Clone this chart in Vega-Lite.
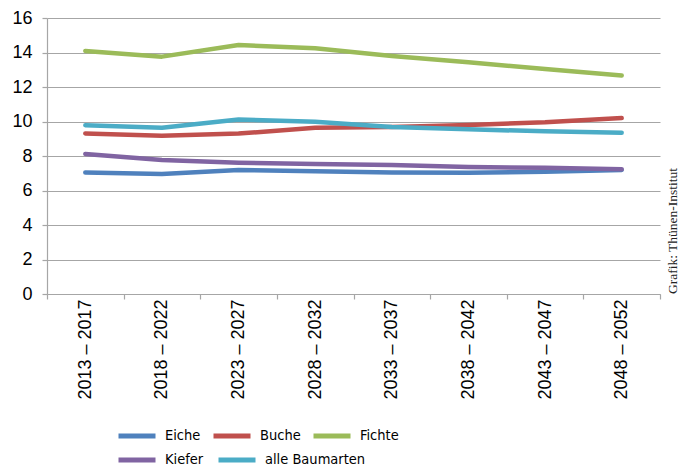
{
  "$schema": "https://vega.github.io/schema/vega-lite/v6.json",
  "width": 613,
  "height": 276,
  "autosize": {"type": "none"},
  "padding": {"left": 47, "top": 18, "right": 21, "bottom": 174},
  "background": "white",
  "title": {
    "text": "Grafik: Thünen-Institut",
    "orient": "right",
    "anchor": "end",
    "frame": "group",
    "angle": -90,
    "align": "left",
    "baseline": "top",
    "font": "Liberation Serif",
    "fontSize": 13.5,
    "fontWeight": "normal",
    "color": "#222222",
    "offset": -8
  },
  "data": {
    "values": [
      {"period": "2013 – 2017", "art": "Eiche", "v": 7.05},
      {"period": "2018 – 2022", "art": "Eiche", "v": 6.96},
      {"period": "2023 – 2027", "art": "Eiche", "v": 7.19},
      {"period": "2028 – 2032", "art": "Eiche", "v": 7.11},
      {"period": "2033 – 2037", "art": "Eiche", "v": 7.05},
      {"period": "2038 – 2042", "art": "Eiche", "v": 7.03},
      {"period": "2043 – 2047", "art": "Eiche", "v": 7.08},
      {"period": "2048 – 2052", "art": "Eiche", "v": 7.19},
      {"period": "2013 – 2017", "art": "Buche", "v": 9.31},
      {"period": "2018 – 2022", "art": "Buche", "v": 9.18},
      {"period": "2023 – 2027", "art": "Buche", "v": 9.3},
      {"period": "2028 – 2032", "art": "Buche", "v": 9.64},
      {"period": "2033 – 2037", "art": "Buche", "v": 9.68},
      {"period": "2038 – 2042", "art": "Buche", "v": 9.8},
      {"period": "2043 – 2047", "art": "Buche", "v": 9.95},
      {"period": "2048 – 2052", "art": "Buche", "v": 10.2},
      {"period": "2013 – 2017", "art": "Fichte", "v": 14.09},
      {"period": "2018 – 2022", "art": "Fichte", "v": 13.76},
      {"period": "2023 – 2027", "art": "Fichte", "v": 14.43},
      {"period": "2028 – 2032", "art": "Fichte", "v": 14.24},
      {"period": "2033 – 2037", "art": "Fichte", "v": 13.8},
      {"period": "2038 – 2042", "art": "Fichte", "v": 13.43},
      {"period": "2043 – 2047", "art": "Fichte", "v": 13.04},
      {"period": "2048 – 2052", "art": "Fichte", "v": 12.66},
      {"period": "2013 – 2017", "art": "Kiefer", "v": 8.12},
      {"period": "2018 – 2022", "art": "Kiefer", "v": 7.77},
      {"period": "2023 – 2027", "art": "Kiefer", "v": 7.61},
      {"period": "2028 – 2032", "art": "Kiefer", "v": 7.54},
      {"period": "2033 – 2037", "art": "Kiefer", "v": 7.48},
      {"period": "2038 – 2042", "art": "Kiefer", "v": 7.36},
      {"period": "2043 – 2047", "art": "Kiefer", "v": 7.32},
      {"period": "2048 – 2052", "art": "Kiefer", "v": 7.23},
      {"period": "2013 – 2017", "art": "alle Baumarten", "v": 9.78},
      {"period": "2018 – 2022", "art": "alle Baumarten", "v": 9.64},
      {"period": "2023 – 2027", "art": "alle Baumarten", "v": 10.12},
      {"period": "2028 – 2032", "art": "alle Baumarten", "v": 9.99},
      {"period": "2033 – 2037", "art": "alle Baumarten", "v": 9.68},
      {"period": "2038 – 2042", "art": "alle Baumarten", "v": 9.55},
      {"period": "2043 – 2047", "art": "alle Baumarten", "v": 9.43},
      {"period": "2048 – 2052", "art": "alle Baumarten", "v": 9.35}
    ]
  },
  "encoding": {
    "x": {
      "field": "period",
      "type": "ordinal",
      "sort": null,
      "scale": {"type": "band", "paddingInner": 0, "paddingOuter": 0},
      "axis": {
        "title": null,
        "labelAngle": -90,
        "labelAlign": "right",
        "labelBaseline": "middle",
        "labelFont": "Liberation Sans",
        "labelFontSize": 18,
        "labelColor": "#000000",
        "labelPadding": 0,
        "tickBand": "extent",
        "tickSize": 5,
        "tickColor": "#a6a6a6",
        "domainColor": "#a6a6a6",
        "grid": false
      }
    },
    "y": {
      "field": "v",
      "type": "quantitative",
      "scale": {"domain": [0, 16], "nice": false, "zero": true},
      "axis": {
        "title": null,
        "values": [0, 2, 4, 6, 8, 10, 12, 14, 16],
        "labelFont": "Liberation Sans",
        "labelFontSize": 18,
        "labelColor": "#000000",
        "labelPadding": 10,
        "tickSize": 5,
        "tickColor": "#a6a6a6",
        "domainColor": "#a6a6a6",
        "gridColor": "#a6a6a6",
        "gridWidth": 1.2
      }
    }
  },
  "layer": [
    {
      "transform": [{"filter": {"field": "art", "oneOf": ["Eiche", "Buche", "Fichte"]}}],
      "mark": {"type": "line", "strokeWidth": 4.5, "strokeJoin": "round", "strokeCap": "round"},
      "encoding": {
        "color": {
          "field": "art",
          "type": "nominal",
          "scale": {
            "domain": ["Eiche", "Buche", "Fichte"],
            "range": ["#4F81BD", "#C0504D", "#9BBB59"]
          },
          "legend": {
            "title": null,
            "orient": "none",
            "legendX": 69,
            "legendY": 397,
            "direction": "horizontal",
            "symbolType": "stroke",
            "symbolSize": 1369,
            "symbolStrokeWidth": 5,
            "labelFont": "DejaVu Sans Condensed",
            "labelFontSize": 14.5,
            "labelColor": "#000000",
            "labelOffset": 7,
            "columnPadding": 2
          }
        }
      }
    },
    {
      "transform": [{"filter": {"field": "art", "oneOf": ["Kiefer", "alle Baumarten"]}}],
      "mark": {"type": "line", "strokeWidth": 4.5, "strokeJoin": "round", "strokeCap": "round"},
      "encoding": {
        "color": {
          "field": "art",
          "type": "nominal",
          "scale": {
            "domain": ["Kiefer", "alle Baumarten"],
            "range": ["#8064A2", "#4BACC6"]
          },
          "legend": {
            "title": null,
            "orient": "none",
            "legendX": 69,
            "legendY": 421,
            "direction": "horizontal",
            "symbolType": "stroke",
            "symbolSize": 1369,
            "symbolStrokeWidth": 5,
            "labelFont": "DejaVu Sans Condensed",
            "labelFontSize": 14.5,
            "labelColor": "#000000",
            "labelOffset": 7,
            "columnPadding": 4
          }
        }
      }
    }
  ],
  "resolve": {"scale": {"color": "independent"}},
  "config": {
    "view": {"stroke": null},
    "axis": {"domainWidth": 1.2, "tickWidth": 1.2}
  }
}
